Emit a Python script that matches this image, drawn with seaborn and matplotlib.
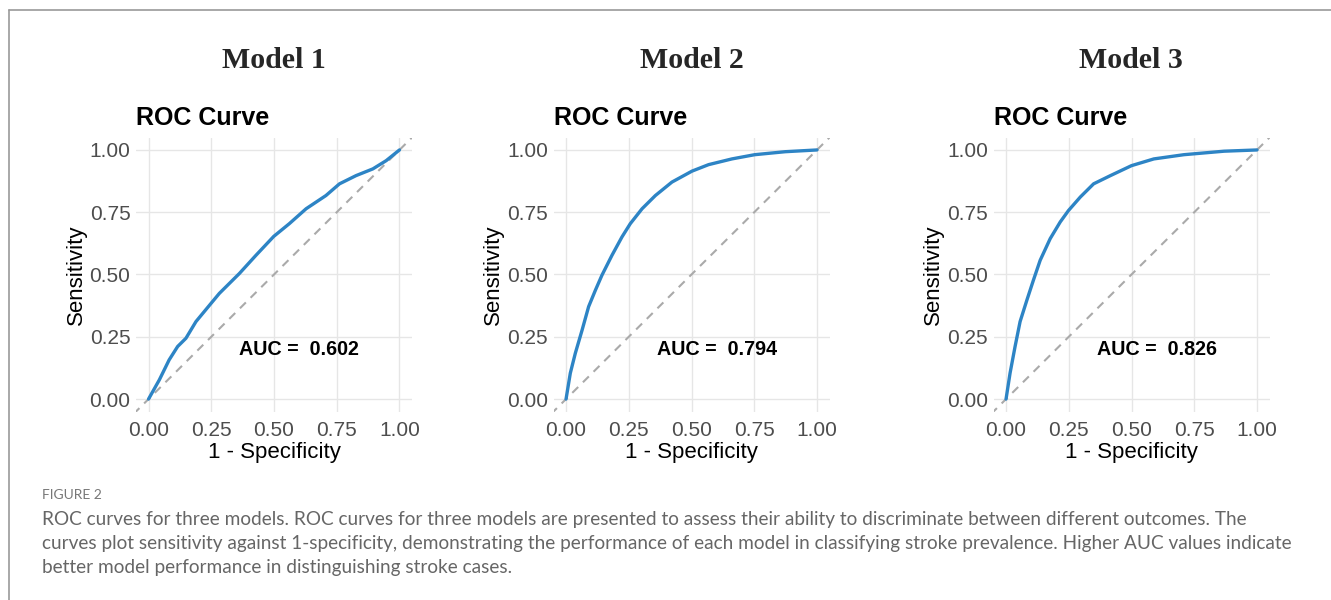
import numpy as np
import pandas as pd
import matplotlib
matplotlib.use("Agg")
import matplotlib.pyplot as plt
from matplotlib.lines import Line2D
import seaborn as sns

# ---- data ----
model_titles = ["Model 1", "Model 2", "Model 3"]
auc_values = [0.602, 0.794, 0.826]

m1_fpr = [0.0, 0.043, 0.082, 0.116, 0.149, 0.189, 0.249, 0.282, 0.362, 0.428, 0.499, 0.561, 0.628, 0.707, 0.761, 0.827, 0.894, 0.947, 1.0]
m1_tpr = [0.0, 0.077, 0.157, 0.211, 0.244, 0.311, 0.384, 0.424, 0.504, 0.577, 0.653, 0.704, 0.764, 0.817, 0.864, 0.897, 0.924, 0.957, 1.0]

m2_fpr = [0.0, 0.017, 0.037, 0.064, 0.090, 0.117, 0.143, 0.183, 0.223, 0.256, 0.303, 0.356, 0.422, 0.502, 0.568, 0.661, 0.752, 0.874, 1.0]
m2_tpr = [0.0, 0.104, 0.184, 0.277, 0.371, 0.437, 0.497, 0.577, 0.651, 0.704, 0.764, 0.817, 0.871, 0.915, 0.941, 0.964, 0.981, 0.993, 1.0]

m3_fpr = [0.0, 0.016, 0.036, 0.056, 0.083, 0.109, 0.136, 0.176, 0.216, 0.249, 0.296, 0.349, 0.416, 0.5, 0.589, 0.709, 0.869, 1.0]
m3_tpr = [0.0, 0.104, 0.211, 0.311, 0.397, 0.477, 0.557, 0.644, 0.711, 0.757, 0.811, 0.864, 0.897, 0.937, 0.964, 0.981, 0.995, 1.0]

tick_vals = [0.0, 0.25, 0.5, 0.75, 1.0]
tick_labels = ["0.00", "0.25", "0.50", "0.75", "1.00"]

caption_head = "FIGURE 2"
caption_lines = [
    "ROC curves for three models. ROC curves for three models are presented to assess their ability to discriminate between different outcomes. The",
    "curves plot sensitivity against 1-specificity, demonstrating the performance of each model in classifying stroke prevalence. Higher AUC values indicate",
    "better model performance in distinguishing stroke cases.",
]

curves = [(m1_fpr, m1_tpr), (m2_fpr, m2_tpr), (m3_fpr, m3_tpr)]

# ---- style ----
sns.set_theme(style="whitegrid")
plt.rcParams["font.family"] = ["Liberation Sans", "DejaVu Sans"]

W, H = 1331, 600
fig = plt.figure(figsize=(W / 100, H / 100), dpi=100)
fig.patch.set_facecolor("white")

# frame lines (top and left)
fig.add_artist(Line2D([9 / W, 1], [1 - 10 / H, 1 - 10 / H], color="#999999", lw=1.2, transform=fig.transFigure))
fig.add_artist(Line2D([9 / W, 9 / W], [0, 1 - 10 / H], color="#999999", lw=1.2, transform=fig.transFigure))

panel_lefts = [136, 553.5, 993.5]
panel_w = 276
panel_top, panel_bot = 137.5, 411.5
title_centers = [274, 692, 1131]

line_color = "#2d84c5"

for i, (fpr, tpr) in enumerate(curves):
    ax = fig.add_axes([panel_lefts[i] / W, 1 - panel_bot / H, panel_w / W, (panel_bot - panel_top) / H])
    ax.set_facecolor("white")
    df = pd.DataFrame({"fpr": fpr, "tpr": tpr})
    ax.plot([-0.06, 1.06], [-0.06, 1.06], ls=(0, (4, 3.2)), color="#aaaaaa", lw=1.5, zorder=2)
    sns.lineplot(data=df, x="fpr", y="tpr", ax=ax, color=line_color, lw=2.4, sort=False,
                 estimator=None, zorder=3)
    ax.set_xlim(-0.05, 1.05)
    ax.set_ylim(-0.05, 1.05)
    ax.set_xticks(tick_vals)
    ax.set_xticklabels(tick_labels)
    ax.set_yticks(tick_vals)
    ax.set_yticklabels(tick_labels)
    ax.grid(True, color="#e6e6e6", lw=1.0)
    for s in ax.spines.values():
        s.set_visible(False)
    ax.tick_params(axis="both", length=0, labelsize=15, labelcolor="#4d4d4d")
    ax.tick_params(axis="x", pad=7)
    ax.tick_params(axis="y", pad=4)
    ax.set_xlabel("1 - Specificity", fontsize=16, color="black", labelpad=1)
    ax.set_ylabel("Sensitivity", fontsize=16, color="black", labelpad=2)
    ax.set_title("ROC Curve", loc="left", fontsize=18, fontweight="bold", pad=9, color="black")
    ax.text(0.6, 0.2, "AUC =  %.3f" % auc_values[i], ha="center", va="center",
            fontsize=14.2, fontweight="bold", color="black")
    fig.text(title_centers[i] / W, 1 - 61 / H, model_titles[i], ha="center", va="center",
             fontsize=21.5, fontweight="bold", family=["Liberation Serif", "DejaVu Serif"])

fig.text(42 / W, 1 - 495 / H, caption_head, ha="left", va="center", fontsize=10,
         color="#777777", family=["Lato", "DejaVu Sans"])
for j, line in enumerate(caption_lines):
    fig.text(42 / W, 1 - (520 + 24 * j) / H, line, ha="left", va="center", fontsize=13.7,
             color="#666666", family=["Lato", "DejaVu Sans"])

fig.savefig("out.png", dpi=100)
